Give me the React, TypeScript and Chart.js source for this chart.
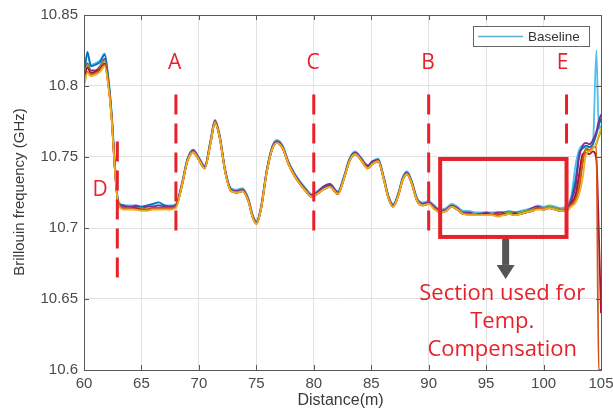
import { useEffect, useRef } from 'react';
import { Chart, registerables } from 'chart.js';
Chart.register(...registerables);

// ---- data ----
const distance = [
  60, 60.3, 60.6, 61.0, 61.4, 61.8, 62.1, 62.4, 62.7, 63.0,
  63.5, 64, 64.5, 65, 65.5, 66, 66.5, 67, 67.5, 68,
  68.5, 69, 69.5, 70, 70.5, 71, 71.4, 71.8, 72.3, 72.8,
  73.3, 73.8, 74.3, 74.7, 75, 75.4, 75.9, 76.4, 76.8, 77.3,
  77.8, 78.3, 78.8, 79.3, 79.8, 80.3, 80.8, 81.4, 82.1, 82.6,
  83.1, 83.6, 84.1, 84.7, 85.1, 85.6, 86.1, 86.5, 86.9, 87.4,
  87.7, 88.1, 88.5, 89.0, 89.5, 90, 90.5, 91, 91.5, 92,
  92.5, 93, 93.5, 94, 94.5, 95, 95.5, 96, 96.5, 97,
  97.5, 98, 98.5, 99, 99.5, 100, 100.5, 101, 101.5, 102,
  102.4, 102.8, 103.1, 103.4, 103.7, 104, 104.3, 104.6, 104.8, 105,
];

const baseline = [
  10.808, 10.822, 10.815, 10.816, 10.818, 10.823, 10.808, 10.782, 10.744, 10.719,
  10.716, 10.716, 10.716, 10.715, 10.715, 10.716, 10.716, 10.716, 10.716, 10.717,
  10.731, 10.749, 10.755, 10.750, 10.744, 10.761, 10.776, 10.766, 10.741, 10.728,
  10.727, 10.728, 10.721, 10.709, 10.705, 10.715, 10.741, 10.758, 10.762, 10.758,
  10.747, 10.739, 10.733, 10.728, 10.724, 10.726, 10.729, 10.731, 10.726, 10.736,
  10.749, 10.754, 10.750, 10.744, 10.747, 10.749, 10.736, 10.723, 10.717, 10.726,
  10.735, 10.740, 10.734, 10.721, 10.718, 10.719, 10.716, 10.713, 10.714, 10.717,
  10.715, 10.712, 10.712, 10.711, 10.711, 10.711, 10.711, 10.711, 10.711, 10.712,
  10.711, 10.712, 10.713, 10.714, 10.716, 10.715, 10.716, 10.715, 10.714, 10.716,
  10.722, 10.745, 10.755, 10.758, 10.756, 10.757, 10.760, 10.825, 10.770, 10.772,
];

const run1 = [
  10.806, 10.824, 10.814, 10.815, 10.817, 10.822, 10.806, 10.781, 10.743, 10.717,
  10.716, 10.714, 10.716, 10.715, 10.716, 10.717, 10.718, 10.716, 10.715, 10.716,
  10.730, 10.748, 10.754, 10.749, 10.743, 10.760, 10.775, 10.765, 10.740, 10.727,
  10.726, 10.727, 10.720, 10.708, 10.704, 10.714, 10.740, 10.757, 10.761, 10.757,
  10.746, 10.738, 10.732, 10.727, 10.723, 10.725, 10.728, 10.730, 10.725, 10.735,
  10.748, 10.753, 10.749, 10.743, 10.746, 10.748, 10.735, 10.722, 10.716, 10.725,
  10.734, 10.739, 10.733, 10.720, 10.717, 10.718, 10.714, 10.711, 10.712, 10.715,
  10.713, 10.710, 10.710, 10.709, 10.709, 10.710, 10.709, 10.710, 10.709, 10.710,
  10.709, 10.710, 10.711, 10.712, 10.714, 10.713, 10.714, 10.713, 10.712, 10.713,
  10.720, 10.735, 10.752, 10.756, 10.758, 10.757, 10.759, 10.766, 10.772, 10.777,
];

const run2 = [
  10.802, 10.810, 10.808, 10.809, 10.811, 10.815, 10.802, 10.778, 10.740, 10.716,
  10.714, 10.714, 10.713, 10.713, 10.713, 10.714, 10.714, 10.714, 10.714, 10.715,
  10.729, 10.747, 10.753, 10.748, 10.742, 10.759, 10.774, 10.764, 10.739, 10.726,
  10.725, 10.726, 10.719, 10.707, 10.703, 10.713, 10.739, 10.756, 10.760, 10.756,
  10.745, 10.737, 10.731, 10.726, 10.722, 10.724, 10.727, 10.729, 10.724, 10.734,
  10.747, 10.752, 10.748, 10.742, 10.745, 10.747, 10.734, 10.721, 10.715, 10.724,
  10.733, 10.738, 10.732, 10.719, 10.716, 10.717, 10.714, 10.711, 10.712, 10.715,
  10.713, 10.710, 10.710, 10.709, 10.709, 10.709, 10.709, 10.709, 10.709, 10.710,
  10.709, 10.710, 10.711, 10.712, 10.714, 10.713, 10.714, 10.713, 10.712, 10.713,
  10.716, 10.720, 10.728, 10.745, 10.756, 10.755, 10.757, 10.757, 10.600, 10.600,
];

const run3 = [
  10.800, 10.809, 10.807, 10.808, 10.810, 10.814, 10.801, 10.777, 10.740, 10.716,
  10.713, 10.713, 10.713, 10.712, 10.712, 10.713, 10.713, 10.713, 10.713, 10.714,
  10.729, 10.747, 10.753, 10.748, 10.742, 10.759, 10.774, 10.764, 10.739, 10.726,
  10.725, 10.726, 10.719, 10.707, 10.703, 10.713, 10.739, 10.756, 10.760, 10.756,
  10.745, 10.737, 10.731, 10.726, 10.722, 10.724, 10.727, 10.729, 10.724, 10.734,
  10.747, 10.752, 10.748, 10.742, 10.745, 10.747, 10.734, 10.721, 10.715, 10.724,
  10.733, 10.738, 10.732, 10.719, 10.716, 10.717, 10.713, 10.711, 10.712, 10.715,
  10.713, 10.710, 10.709, 10.709, 10.709, 10.709, 10.709, 10.708, 10.709, 10.710,
  10.709, 10.710, 10.711, 10.712, 10.713, 10.713, 10.714, 10.713, 10.712, 10.712,
  10.715, 10.718, 10.724, 10.735, 10.752, 10.754, 10.756, 10.760, 10.765, 10.770,
];

const run4 = [
  10.804, 10.816, 10.811, 10.811, 10.814, 10.819, 10.804, 10.779, 10.741, 10.717,
  10.715, 10.715, 10.715, 10.714, 10.715, 10.715, 10.716, 10.715, 10.715, 10.716,
  10.730, 10.748, 10.755, 10.749, 10.743, 10.761, 10.776, 10.765, 10.740, 10.727,
  10.726, 10.727, 10.720, 10.708, 10.704, 10.714, 10.740, 10.757, 10.761, 10.757,
  10.746, 10.738, 10.732, 10.727, 10.723, 10.725, 10.729, 10.731, 10.725, 10.735,
  10.748, 10.753, 10.749, 10.744, 10.747, 10.748, 10.735, 10.722, 10.716, 10.725,
  10.734, 10.739, 10.733, 10.720, 10.717, 10.718, 10.715, 10.712, 10.713, 10.716,
  10.714, 10.711, 10.711, 10.710, 10.710, 10.711, 10.710, 10.711, 10.711, 10.711,
  10.711, 10.711, 10.712, 10.714, 10.715, 10.714, 10.715, 10.714, 10.713, 10.714,
  10.719, 10.730, 10.750, 10.758, 10.760, 10.759, 10.762, 10.768, 10.775, 10.780,
];

const run5 = [
  10.803, 10.815, 10.810, 10.810, 10.813, 10.818, 10.803, 10.779, 10.741, 10.717,
  10.714, 10.714, 10.714, 10.714, 10.713, 10.714, 10.714, 10.714, 10.714, 10.715,
  10.729, 10.747, 10.754, 10.748, 10.742, 10.760, 10.775, 10.764, 10.739, 10.726,
  10.725, 10.726, 10.719, 10.707, 10.703, 10.713, 10.739, 10.756, 10.760, 10.756,
  10.745, 10.737, 10.731, 10.726, 10.722, 10.724, 10.727, 10.729, 10.724, 10.734,
  10.747, 10.752, 10.748, 10.742, 10.745, 10.747, 10.734, 10.721, 10.715, 10.724,
  10.733, 10.738, 10.732, 10.719, 10.716, 10.717, 10.714, 10.711, 10.712, 10.715,
  10.713, 10.710, 10.710, 10.710, 10.709, 10.709, 10.710, 10.709, 10.710, 10.711,
  10.710, 10.711, 10.712, 10.713, 10.714, 10.714, 10.715, 10.714, 10.713, 10.713,
  10.717, 10.722, 10.733, 10.750, 10.755, 10.754, 10.756, 10.759, 10.764, 10.768,
];

const run6 = [
  10.803, 10.813, 10.809, 10.810, 10.812, 10.816, 10.803, 10.778, 10.740, 10.716,
  10.714, 10.714, 10.714, 10.713, 10.713, 10.714, 10.714, 10.714, 10.714, 10.715,
  10.729, 10.747, 10.753, 10.748, 10.742, 10.759, 10.774, 10.764, 10.739, 10.726,
  10.725, 10.726, 10.719, 10.707, 10.703, 10.713, 10.739, 10.756, 10.760, 10.756,
  10.745, 10.737, 10.731, 10.726, 10.722, 10.724, 10.727, 10.729, 10.724, 10.734,
  10.747, 10.752, 10.748, 10.742, 10.745, 10.747, 10.734, 10.721, 10.715, 10.724,
  10.733, 10.738, 10.732, 10.719, 10.716, 10.717, 10.714, 10.711, 10.712, 10.715,
  10.713, 10.710, 10.710, 10.709, 10.709, 10.710, 10.709, 10.709, 10.710, 10.710,
  10.710, 10.710, 10.711, 10.712, 10.714, 10.713, 10.714, 10.713, 10.712, 10.713,
  10.717, 10.724, 10.738, 10.752, 10.753, 10.752, 10.754, 10.748, 10.700, 10.640,
];

const xTicks = [60, 65, 70, 75, 80, 85, 90, 95, 100, 105];
const yTicks = [10.6, 10.65, 10.7, 10.75, 10.8, 10.85];
const xTitle = 'Distance(m)';
const yTitle = 'Brillouin frequency (GHz)';
const legendLabel = 'Baseline';
const noteLines = ['Section used for', 'Temp.', 'Compensation'];

// ---- styling / annotation config ----
const RED = '#e8202a';
const AXIS = '#5a5a5a';
const TICKTEXT = '#4a4a4a';
const FONT = '"Liberation Sans", Arial, sans-serif';

const seriesDefs = [
  { label: legendLabel, data: baseline, color: '#4DBEEE', order: 7 },
  { label: 'run1', data: run1, color: '#0072BD', order: 6 },
  { label: 'run4', data: run4, color: '#7E2F8E', order: 5 },
  { label: 'run5', data: run5, color: '#77AC30', order: 4 },
  { label: 'run6', data: run6, color: '#A2142F', order: 3 },
  { label: 'run2', data: run2, color: '#D95319', order: 2 },
  { label: 'run3', data: run3, color: '#EDB120', order: 1 },
];

const vLines = [
  { name: 'D', x: 62.9, top: 10.761, bottom: 10.661, lx: 61.4, ly: 10.727 },
  { name: 'A', x: 68, top: 10.794, bottom: 10.693, lx: 67.9, ly: 10.816 },
  { name: 'C', x: 80, top: 10.794, bottom: 10.693, lx: 79.95, ly: 10.816 },
  { name: 'B', x: 90, top: 10.794, bottom: 10.695, lx: 89.95, ly: 10.816 },
  { name: 'E', x: 102, top: 10.794, bottom: 10.757, lx: 101.65, ly: 10.816 },
];

const annotationPlugin = {
  id: 'annots',
  afterDraw(chart: any) {
    const { ctx, chartArea: a, scales } = chart;
    const xs = scales.x;
    const ys = scales.y;
    const X = (v: number) => xs.getPixelForValue(v);
    const Y = (v: number) => ys.getPixelForValue(v);

    ctx.save();
    // box
    ctx.strokeStyle = AXIS;
    ctx.lineWidth = 1;
    ctx.strokeRect(Math.round(a.left) + 0.5, Math.round(a.top) + 0.5, Math.round(a.right - a.left), Math.round(a.bottom - a.top));
    // inner ticks
    const tl = 5;
    ctx.beginPath();
    xTicks.forEach((t) => {
      const px = Math.round(X(t)) + 0.5;
      ctx.moveTo(px, a.bottom);
      ctx.lineTo(px, a.bottom - tl);
      ctx.moveTo(px, a.top);
      ctx.lineTo(px, a.top + tl);
    });
    yTicks.forEach((t) => {
      const py = Math.round(Y(t)) + 0.5;
      ctx.moveTo(a.left, py);
      ctx.lineTo(a.left + tl, py);
      ctx.moveTo(a.right, py);
      ctx.lineTo(a.right - tl, py);
    });
    ctx.stroke();

    // axis titles
    ctx.fillStyle = '#3a3a3a';
    ctx.font = '16px ' + FONT;
    ctx.textAlign = 'center';
    ctx.textBaseline = 'middle';
    ctx.fillText(xTitle, (a.left + a.right) / 2 - 2, 401);
    ctx.save();
    ctx.translate(20, 192);
    ctx.rotate(-Math.PI / 2);
    ctx.font = '15px ' + FONT;
    ctx.fillText(yTitle, 0, 0);
    ctx.restore();

    // legend
    const lx0 = a.right - 128;
    const ly0 = a.top + 11;
    ctx.fillStyle = '#ffffff';
    ctx.fillRect(lx0, ly0, 116, 20);
    ctx.strokeStyle = '#666';
    ctx.lineWidth = 1;
    ctx.strokeRect(lx0 + 0.5, ly0 + 0.5, 116, 20);
    ctx.strokeStyle = '#5aaed6';
    ctx.lineWidth = 1.5;
    ctx.beginPath();
    ctx.moveTo(lx0 + 5, ly0 + 10.5);
    ctx.lineTo(lx0 + 50, ly0 + 10.5);
    ctx.stroke();
    ctx.fillStyle = '#333';
    ctx.font = '13.5px ' + FONT;
    ctx.textAlign = 'left';
    ctx.textBaseline = 'middle';
    ctx.fillText(legendLabel, lx0 + 55, ly0 + 11);

    // dashed red lines + letters
    ctx.strokeStyle = RED;
    ctx.lineWidth = 3;
    ctx.setLineDash([20, 9]);
    vLines.forEach((l) => {
      ctx.beginPath();
      ctx.moveTo(X(l.x), Y(l.top));
      ctx.lineTo(X(l.x), Y(l.bottom));
      ctx.stroke();
    });
    ctx.setLineDash([]);
    ctx.fillStyle = RED;
    ctx.font = '21px "Open Sans", "Liberation Sans", sans-serif';
    ctx.textAlign = 'center';
    ctx.textBaseline = 'middle';
    vLines.forEach((l) => {
      ctx.fillText(l.name, X(l.lx), Y(l.ly));
    });

    // rectangle
    ctx.strokeStyle = RED;
    ctx.lineWidth = 4;
    const rx1 = X(91), rx2 = X(102), ry1 = Y(10.7486), ry2 = Y(10.6937);
    ctx.strokeRect(rx1, ry1, rx2 - rx1, ry2 - ry1);

    // arrow
    const ax = X(96.7);
    const shaftEnd = Y(10.674);
    const tip = Y(10.664);
    ctx.fillStyle = '#555555';
    ctx.fillRect(ax - 3.5, ry2 + 2, 7, shaftEnd - ry2 - 2);
    ctx.beginPath();
    ctx.moveTo(ax - 9, shaftEnd);
    ctx.lineTo(ax + 9, shaftEnd);
    ctx.lineTo(ax, tip);
    ctx.closePath();
    ctx.fill();

    // note text
    ctx.fillStyle = RED;
    ctx.font = '22px "Open Sans", "Liberation Sans", sans-serif';
    ctx.textAlign = 'center';
    ctx.textBaseline = 'alphabetic';
    const baselines = [10.6493, 10.6296, 10.6099];
    noteLines.forEach((t, i) => ctx.fillText(t, X(96.4), Y(baselines[i])));

    ctx.restore();
  },
};

export default function App() {
  const ref = useRef<HTMLCanvasElement>(null);
  useEffect(() => {
    if (!ref.current) return;
    const chart = new Chart(ref.current, {
      type: 'line',
      data: {
        labels: distance,
        datasets: seriesDefs.map((s) => ({
          label: s.label,
          data: distance.map((d, i) => ({ x: d, y: s.data[i] })),
          borderColor: s.color,
          backgroundColor: s.color,
          borderWidth: 1.8,
          pointRadius: 0,
          cubicInterpolationMode: 'monotone' as const,
          order: s.order,
        })),
      },
      options: {
        animation: false,
        responsive: false,
        maintainAspectRatio: false,
        layout: { padding: { top: 15, right: 12, left: 0, bottom: 0 } },
        plugins: { legend: { display: false }, tooltip: { enabled: false } },
        scales: {
          x: {
            type: 'linear',
            min: 60,
            max: 105,
            afterBuildTicks: (s: any) => { s.ticks = xTicks.map((v) => ({ value: v })); },
            afterFit: (s: any) => { s.height = 43; s.paddingLeft = 0; s.paddingRight = 0; },
            grid: { color: '#e2e2e2', drawTicks: false },
            border: { display: false },
            ticks: {
              padding: 5,
              color: TICKTEXT,
              font: { family: FONT, size: 15 },
              maxRotation: 0,
              callback: (v: any) => String(v),
            },
          },
          y: {
            type: 'linear',
            min: 10.6,
            max: 10.85,
            afterBuildTicks: (s: any) => { s.ticks = yTicks.map((v) => ({ value: v })); },
            afterFit: (s: any) => { s.width = 84; s.paddingTop = 0; s.paddingBottom = 0; },
            grid: { color: '#e2e2e2', drawTicks: false },
            border: { display: false },
            ticks: {
              padding: 6,
              color: TICKTEXT,
              font: { family: FONT, size: 15 },
              callback: (v: any) => String(Number(Number(v).toFixed(2))),
            },
          },
        },
      },
      plugins: [annotationPlugin],
    });
    return () => chart.destroy();
  }, []);
  return (
    <div style={{ position: 'fixed', left: 0, top: 0, width: 613, height: 413, background: '#fff' }}>
      <canvas ref={ref} width={613} height={413} style={{ width: 613, height: 413, display: 'block' }} />
    </div>
  );
}
